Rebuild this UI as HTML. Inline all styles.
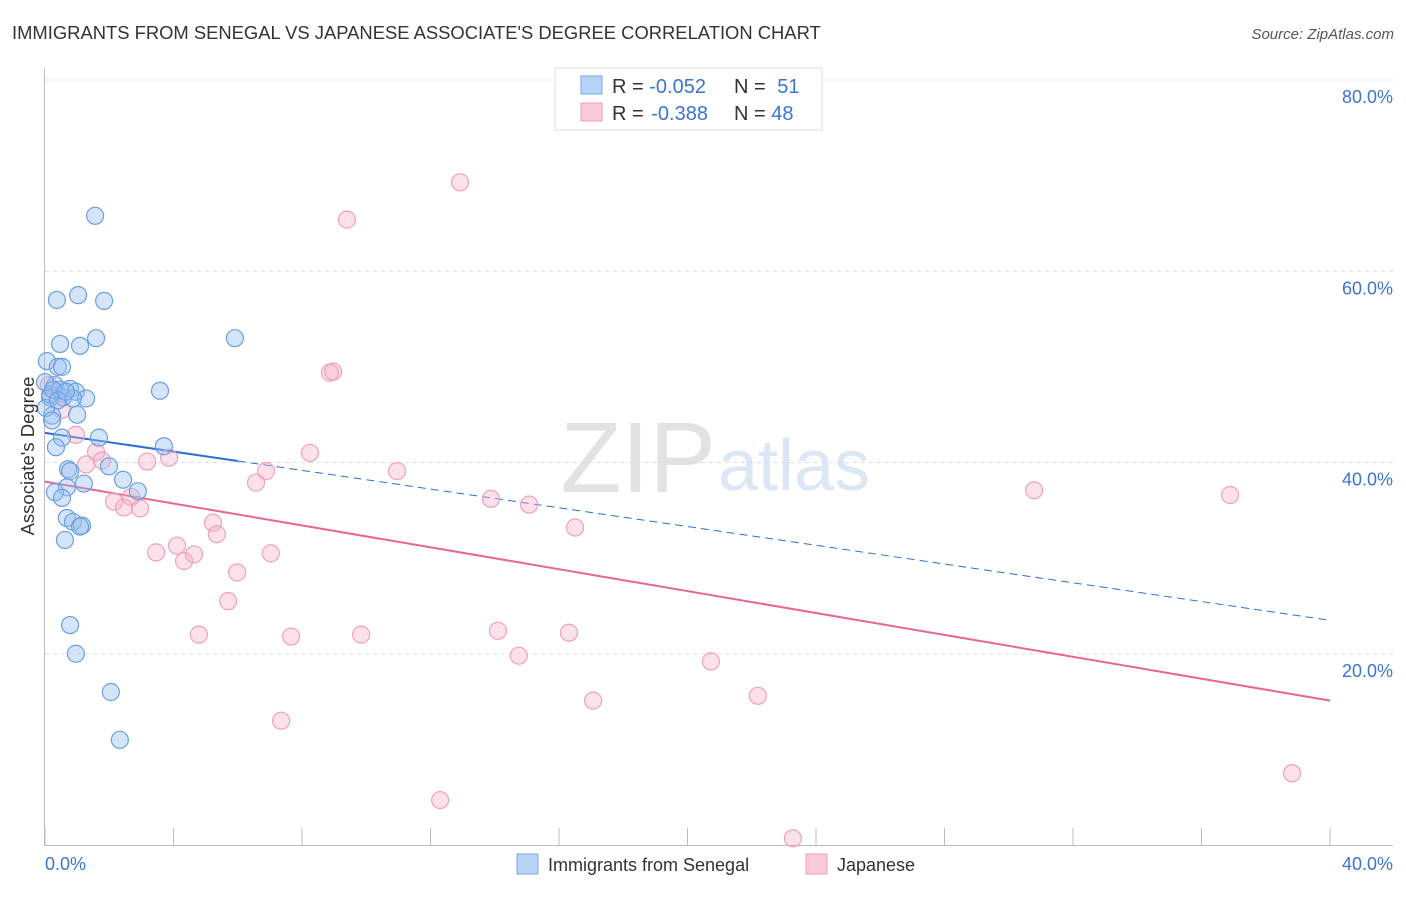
<!DOCTYPE html>
<html><head><meta charset="utf-8"><style>
body{margin:0;background:#fff;font-family:"Liberation Sans",sans-serif}
svg text{font-family:"Liberation Sans",sans-serif}
</style></head><body>
<svg id="c" width="1406" height="892" xmlns="http://www.w3.org/2000/svg">
<text x="12" y="39" font-size="18.4" fill="#333">IMMIGRANTS FROM SENEGAL VS JAPANESE ASSOCIATE'S DEGREE CORRELATION CHART</text>
<text x="1394" y="39" font-size="15" fill="#555" font-style="italic" text-anchor="end">Source: ZipAtlas.com</text>
<text x="716" y="492" font-size="100" fill="#e2e2e2" text-anchor="end" font-family="Liberation Serif">ZIP</text>
<text x="718" y="490" font-size="72" fill="#dce6f4">atlas</text>
<g id="grid"></g>
<g id="axes"></g>
<g id="trend"></g>
<g id="pts"></g>
<text x="34" y="456" font-size="18.5" fill="#333" text-anchor="middle" transform="rotate(-90 34 456)">Associate's Degree</text>
<g>
<rect x="555" y="68" width="267" height="62" fill="#fff" stroke="#ddd"/>
<rect x="581" y="76" width="21" height="18" fill="#b8d3f5" stroke="#7aa7e6"/>
<rect x="581" y="103" width="21" height="18" fill="#fcc9d8" stroke="#f09ab5"/>
<text x="612" y="93" font-size="20" fill="#333">R = <tspan fill="#3a75d0">-0.052</tspan></text>
<text x="734" y="93" font-size="20" fill="#333">N = <tspan fill="#3a75d0" dx="6">51</tspan></text>
<text x="612" y="120" font-size="20" fill="#333">R = <tspan fill="#3a75d0" dx="2">-0.388</tspan></text>
<text x="734" y="120" font-size="20" fill="#333">N = <tspan fill="#3a75d0">48</tspan></text>
</g>
<g>
<rect x="517" y="854" width="21" height="20" fill="#b8d3f5" stroke="#7aa7e6"/>
<text x="548" y="871" font-size="18" fill="#333">Immigrants from Senegal</text>
<rect x="806" y="854" width="21" height="20" fill="#fcc9d8" stroke="#f09ab5"/>
<text x="837" y="871" font-size="18" fill="#333">Japanese</text>
</g>
</svg>
<script>
const xTickLabels=["0.0%","40.0%"];
const yTicks=[20,40,60,80];
const yTickLabels=["20.0%","40.0%","60.0%","80.0%"];
const senegalX=[1.56,.37,1.03,1.84,1.59,5.91,.47,1.09,.06,.40,.53,3.58,.31,.78,.96,1.28,.16,.56,.87,.22,1.0,.53,1.68,.34,3.7,1.99,.72,.78,2.43,.68,1.21,2.89,.31,.53,.68,.87,1.15,1.09,.62,.78,.96,2.05,2.33,.03,.16,.22,.47,0,.25,.4,.65];
const senegalY=[65.8,57.0,57.5,56.9,53.0,53.0,52.4,52.2,50.6,50.0,50.0,47.5,48.1,47.7,47.4,46.7,46.8,46.8,46.7,44.9,45.0,42.6,42.6,41.6,41.7,39.6,39.3,39.1,38.2,37.4,37.8,37.0,36.9,36.3,34.2,33.8,33.4,33.3,31.9,23.0,20.0,16.0,11.0,45.7,47.1,44.4,47.6,48.4,47.6,46.5,47.4];
const japaneseX=[12.92,9.4,8.87,8.97,.12,.53,.37,.96,1.59,1.77,1.28,3.18,3.86,8.25,6.88,10.96,6.57,2.15,2.46,2.96,2.68,13.88,15.07,16.5,30.79,36.89,5.23,5.35,3.46,4.11,4.33,4.64,5.98,7.03,5.7,4.79,7.66,9.84,14.1,16.31,14.75,20.73,22.19,17.06,7.35,12.3,23.28,38.82];
const japaneseY=[69.3,65.4,49.4,49.5,48.1,45.5,47.4,42.9,41.1,40.2,39.8,40.1,40.5,41.0,39.1,39.1,37.9,35.9,35.3,35.2,36.4,36.2,35.6,33.2,37.1,36.6,33.7,32.5,30.6,31.3,29.7,30.4,28.5,30.5,25.5,22.0,21.8,22.0,22.4,22.2,19.8,19.2,15.6,15.1,13.0,4.7,0.7,7.5];
const senegalTrend=[43.1,23.5];
const japaneseTrend=[38.0,15.1];
const NS="http://www.w3.org/2000/svg";
const X=v=>45+v*(1285/40), Y=v=>845-v*9.5625;
function mk(t,a,p){const e=document.createElementNS(NS,t);for(const k in a)e.setAttribute(k,a[k]);p.appendChild(e);return e;}
const grid=document.getElementById('grid'),axes=document.getElementById('axes');
yTicks.forEach((t,i)=>{
 const l=mk('line',{x1:45,x2:1393,y1:Y(t),y2:Y(t),stroke:'#ddd','stroke-dasharray':'4 4'},grid);
 
 
 const tx=mk('text',{x:1393,y:Y(t)+23,'font-size':18,fill:'#3a75d0','text-anchor':'end'},axes);
 tx.textContent=yTickLabels[i];
 
 
});
const ax=mk('path',{d:'M44.5 68V845.5H1393',stroke:'#bbb',fill:'none'},axes);


for(let v=0;v<=40;v+=4){const t=mk('line',{x1:X(v),x2:X(v),y1:828,y2:845,stroke:'#bbb'},axes);
 
 }
[[0,'start',45],[40,'end',1393]].forEach((d,i)=>{const t=mk('text',{x:d[2],y:870,'font-size':18,fill:'#3a75d0','text-anchor':d[1]},axes);
 t.textContent=xTickLabels[i];
 
 });
const tr=document.getElementById('trend');
const ty=(tr2,x)=>tr2[0]+(tr2[1]-tr2[0])*x/40;
let l1=mk('line',{x1:X(0),y1:Y(ty(senegalTrend,0)),x2:X(6),y2:Y(ty(senegalTrend,6)),stroke:'#2d6fd4','stroke-width':2},tr);


let l2=mk('line',{x1:X(6),y1:Y(ty(senegalTrend,6)),x2:X(40),y2:Y(ty(senegalTrend,40)),stroke:'#2d6fd4','stroke-width':1,'stroke-dasharray':'8 5'},tr);


let l3=mk('line',{x1:X(0),y1:Y(ty(japaneseTrend,0)),x2:X(40),y2:Y(ty(japaneseTrend,40)),stroke:'#e8658f','stroke-width':2},tr);


const pts=document.getElementById('pts');
japaneseX.forEach((x,i)=>{const c=mk('circle',{cx:X(x),cy:Y(japaneseY[i]),r:8.5,fill:'rgba(248,170,195,0.35)',stroke:'#f0a0bb','stroke-width':1.2},pts);
 
 });
senegalX.forEach((x,i)=>{const c=mk('circle',{cx:X(x),cy:Y(senegalY[i]),r:8.5,fill:'rgba(150,190,240,0.4)',stroke:'#6a9fe0','stroke-width':1.2},pts);
 
 });
</script>
</body></html>
